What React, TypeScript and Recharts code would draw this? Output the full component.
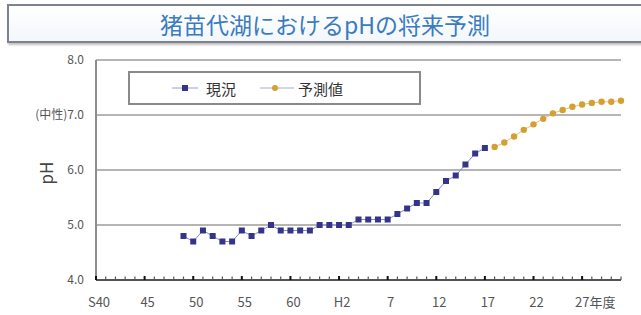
import React from "react";
import { LineChart, Line, XAxis, YAxis, CartesianGrid, Legend } from "recharts";

// 年度 (西暦) と pH 実測値
const currentYears = [
    1974, 1975, 1976, 1977, 1978, 1979, 1980, 1981, 1982, 1983, 1984, 1985, 1986, 1987, 1988, 1989,
    1990, 1991, 1992, 1993, 1994, 1995, 1996, 1997, 1998, 1999, 2000, 2001, 2002, 2003, 2004, 2005,
];
const currentValues = [
    4.8, 4.7, 4.9, 4.8, 4.7, 4.7, 4.9, 4.8, 4.9, 5.0, 4.9, 4.9, 4.9, 4.9, 5.0, 5.0,
    5.0, 5.0, 5.1, 5.1, 5.1, 5.1, 5.2, 5.3, 5.4, 5.4, 5.6, 5.8, 5.9, 6.1, 6.3, 6.4,
];

// 予測値
const forecastYears = [2006, 2007, 2008, 2009, 2010, 2011, 2012, 2013, 2014, 2015, 2016, 2017, 2018, 2019];
const forecastValues = [6.42, 6.5, 6.61, 6.73, 6.83, 6.93, 7.03, 7.09, 7.15, 7.19, 7.22, 7.24, 7.24, 7.26];

const yTicks = [4, 5, 6, 7, 8];
const yTickLabels = ["4.0", "5.0", "6.0", "(中性)7.0", "8.0"];

const xLabelYears = [1965, 1970, 1975, 1980, 1985, 1990, 1995, 2000, 2005, 2010, 2015];
const xLabels = ["S40", "45", "50", "55", "60", "H2", "7", "12", "17", "22", "27年度"];

const seriesNames = ["現況", "予測値"];
const COLORS = { current: "#34348a", forecast: "#d5a032" };

const FONT = "'Noto Sans CJK JP', 'Noto Sans', sans-serif";

const xDomain: [number, number] = [1965, 2019];
const yearTicks = Array.from({ length: xDomain[1] - xDomain[0] + 1 }, (_, i) => xDomain[0] + i);

const data = [...currentYears, ...forecastYears].map((year) => {
    const ci = currentYears.indexOf(year);
    const fi = forecastYears.indexOf(year);
    return {
        year,
        current: ci >= 0 ? currentValues[ci] : null,
        forecast: fi >= 0 ? forecastValues[fi] : null,
    };
});

const XTick = (props: any) => {
    const { x, y, payload } = props;
    const i = xLabelYears.indexOf(payload.value);
    const major = i >= 0;
    const last = i === xLabels.length - 1;
    return (
        <g>
            <line
                x1={x}
                x2={x}
                y1={y}
                y2={y - (major ? 4 : 3.5)}
                stroke={major ? "#111" : "#555"}
                strokeWidth={major ? 2 : 1.2}
            />
            {major && (
                <text
                    x={last ? x - 7 : x + 3}
                    y={y + 27}
                    textAnchor={last ? "start" : "middle"}
                    fontSize={13}
                    fill="#555"
                    fontFamily={FONT}
                >
                    {xLabels[i]}
                </text>
            )}
        </g>
    );
};

const SquareDot = (props: any) => {
    const { cx, cy } = props;
    if (cx == null || cy == null) return <g />;
    return <rect x={cx - 3} y={cy - 3} width={6} height={6} fill={COLORS.current} />;
};

const RoundDot = (props: any) => {
    const { cx, cy } = props;
    if (cx == null || cy == null) return <g />;
    return <circle cx={cx} cy={cy} r={3.2} fill={COLORS.forecast} />;
};

const LegendBox = () => (
    <div
        style={{
            width: 293,
            height: 34,
            border: "2px solid #8a8a8a",
            background: "#fff",
            display: "flex",
            alignItems: "center",
            paddingLeft: 42,
            boxSizing: "border-box",
            fontFamily: FONT,
            fontSize: 15,
            color: "#333",
        }}
    >
        <svg width={26} height={10} style={{ marginRight: 8 }}>
            <line x1={0} x2={26} y1={5} y2={5} stroke="#9aa0c8" strokeWidth={1} />
            <rect x={10} y={2} width={6} height={6} fill={COLORS.current} />
        </svg>
        <span style={{ marginRight: 24 }}>{seriesNames[0]}</span>
        <svg width={34} height={10} style={{ marginRight: 4 }}>
            <line x1={0} x2={34} y1={5} y2={5} stroke="#a8b0c8" strokeWidth={1} />
            <circle cx={15} cy={5} r={3} fill={COLORS.forecast} />
        </svg>
        <span>{seriesNames[1]}</span>
    </div>
);

export default function App() {
    return (
        <div style={{ position: "absolute", left: 0, top: 0, width: 641, height: 315, background: "#fff", overflow: "hidden" }}>
            <div
                style={{
                    position: "absolute",
                    left: 7,
                    top: 4,
                    width: 640,
                    height: 39,
                    boxSizing: "border-box",
                    border: "2px solid #7c8290",
                    background: "linear-gradient(#ffffff, #f3f7fb)",
                    boxShadow: "1px 2px 2px rgba(0,0,0,0.25)",
                    display: "flex",
                    alignItems: "center",
                    justifyContent: "center",
                    paddingRight: 10,
                }}
            >
                <span style={{ fontFamily: FONT, fontSize: 23, color: "#3b7bbf", marginLeft: 6 }}>
                    猪苗代湖におけるpHの将来予測
                </span>
            </div>
            <LineChart
                width={641}
                height={315}
                data={data}
                margin={{ top: 60, right: 20, bottom: 5, left: 0 }}
                style={{ position: "absolute", left: 0, top: 0 }}
            >
                <CartesianGrid horizontal vertical={false} stroke="#9c9c9c" strokeWidth={1.6} />
                <XAxis
                    dataKey="year"
                    type="number"
                    domain={xDomain}
                    ticks={yearTicks}
                    interval={0}
                    height={30}
                    tickSize={0}
                    tickMargin={0}
                    tickLine={false}
                    axisLine={{ stroke: "#333", strokeWidth: 1.5 }}
                    tick={<XTick />}
                />
                <YAxis
                    type="number"
                    domain={[4, 8]}
                    ticks={yTicks}
                    width={96}
                    tickLine={false}
                    tickMargin={6}
                    axisLine={{ stroke: "#8c8c8c", strokeWidth: 2 }}
                    tick={{ fontSize: 12, fill: "#555", fontFamily: FONT }}
                    tickFormatter={(v: number) => yTickLabels[yTicks.indexOf(v)]}
                    label={{
                        content: (p: any) => {
                            const vb = p.viewBox;
                            const cx = vb.x + 45;
                            const cy = vb.y + vb.height / 2 + 3;
                            return (
                                <text
                                    x={cx}
                                    y={cy}
                                    transform={`rotate(-90 ${cx} ${cy})`}
                                    textAnchor="middle"
                                    dominantBaseline="central"
                                    fontSize={17}
                                    fill="#444"
                                    fontFamily={FONT}
                                >
                                    pH
                                </text>
                            );
                        },
                    }}
                />
                <Legend
                    layout="vertical"
                    align="center"
                    verticalAlign="middle"
                    content={<LegendBox />}
                    wrapperStyle={{ position: "absolute", left: 128, top: 71, width: 293, height: 34 }}
                />
                <Line
                    type="linear"
                    dataKey="current"
                    name={seriesNames[0]}
                    stroke="#8a8ac4"
                    strokeWidth={1}
                    dot={<SquareDot />}
                    connectNulls={false}
                    isAnimationActive={false}
                />
                <Line
                    type="linear"
                    dataKey="forecast"
                    name={seriesNames[1]}
                    stroke="#e6c070"
                    strokeWidth={1}
                    dot={<RoundDot />}
                    connectNulls={false}
                    isAnimationActive={false}
                />
            </LineChart>
        </div>
    );
}
